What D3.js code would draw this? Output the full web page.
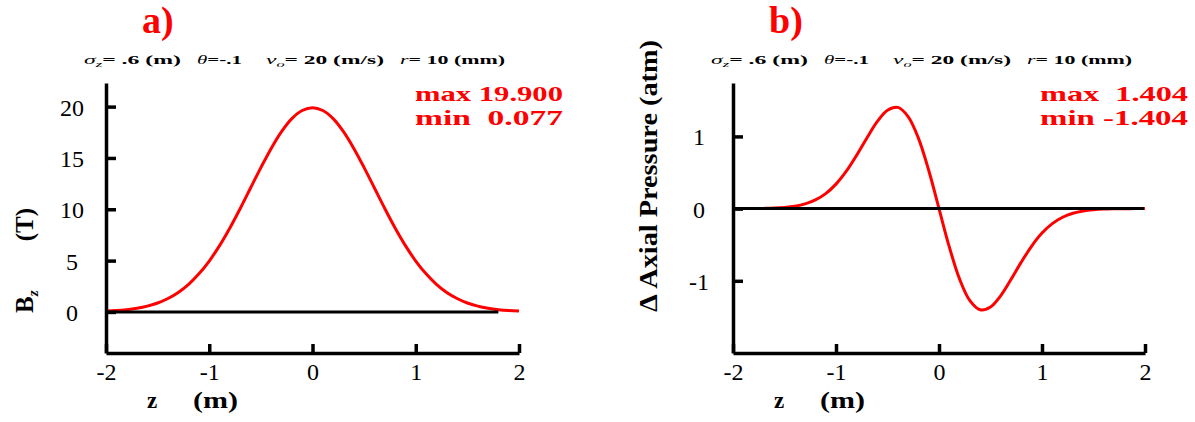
<!DOCTYPE html>
<html>
<head>
<meta charset="utf-8">
<script src="https://cdn.jsdelivr.net/npm/d3@7"></script>
<style>
  body { margin: 0; background: #fff; }
  text { font-family: "Liberation Serif", "Times New Roman", serif; white-space: pre; }
</style>
</head>
<body>
<script>
const [width, height] = [1195, 422]

// z positions (m)
const zValues = [
  -2.0, -1.9, -1.8, -1.7, -1.6, -1.5, -1.4, -1.3, -1.2, -1.1,
  -1.0, -0.9, -0.8, -0.7, -0.6, -0.5, -0.4, -0.3, -0.2, -0.1,
  0.0, 0.1, 0.2, 0.3, 0.4, 0.5, 0.6, 0.7, 0.8, 0.9,
  1.0, 1.1, 1.2, 1.3, 1.4, 1.5, 1.6, 1.7, 1.8, 1.9, 2.0
];
// panel a: Bz (T)
const bzValues = [
  0.08, 0.13, 0.22, 0.36, 0.57, 0.87, 1.31, 1.90, 2.69, 3.71,
  4.96, 6.46, 8.18, 10.08, 12.07, 14.06, 15.93, 17.56, 18.83, 19.62,
  19.90, 19.62, 18.83, 17.56, 15.93, 14.06, 12.07, 10.08, 8.18, 6.46,
  4.96, 3.71, 2.69, 1.90, 1.31, 0.87, 0.57, 0.36, 0.22, 0.13, 0.08
];
// panel b: delta axial pressure (atm)
const pressureValues = [
  0.000, 0.000, 0.001, 0.003, 0.007, 0.016, 0.033, 0.065, 0.120, 0.208,
  0.339, 0.518, 0.738, 0.979, 1.204, 1.362, 1.402, 1.275, 0.976, 0.531,
  0.000, -0.531, -0.976, -1.275, -1.402, -1.362, -1.204, -0.979, -0.738, -0.518,
  -0.339, -0.208, -0.120, -0.065, -0.033, -0.016, -0.007, -0.003, -0.001, 0.000, 0.000
];

const xTicks = [-2, -1, 0, 1, 2];
const bzTicks = [0, 5, 10, 15, 20];
const pressureTicks = [-1, 0, 1];

const panels = [
  {
    left: 106, right: 519, tag: "a)", yDomain: [-4, 22.3], ticks: bzTicks, values: bzValues,
    zeroEnd: 1.8, stats: ["max 19.900", "min  0.077"], statsX: 415
  },
  {
    left: 733, right: 1145, tag: "b)", yDomain: [-2, 1.74], ticks: pressureTicks, values: pressureValues,
    zeroEnd: 1.99, stats: ["max  1.404", "min -1.404"], statsX: 1040
  }
];
const [plotTop, plotBottom] = [83, 353];

const svg = d3.select('body')
  .append('svg')
  .attr("width", width)
  .attr("height", height);

// parameter line pieces: offset from axis, width
const paramPieces = [
  { dx: -22, w: 97, parts: [["σ", "i"], ["z", "s"], ["= .6 (m)", "b"]] },
  { dx: 91, w: 45, parts: [["θ", "i"], ["=-.1", "b"]] },
  { dx: 160, w: 118, parts: [["v", "i"], ["o", "s"], ["= 20 (m/s)", "b"]] },
  { dx: 294, w: 105, parts: [["r", "i"], ["= 10 (mm)", "b"]] }
];

panels.forEach((p, i) => {
  const x = d3.scaleLinear().domain([-2, 2]).range([p.left, p.right]);
  const y = d3.scaleLinear().domain(p.yDomain).range([plotBottom, plotTop]);
  const g = svg.append("g");

  // red curve
  const line = d3.line()
    .x((d, k) => x(zValues[k]))
    .y(d => y(d))
    .curve(d3.curveCatmullRom);
  g.append("path")
    .datum(p.values)
    .attr("d", line)
    .attr("fill", "none")
    .attr("stroke", "#ff0000")
    .attr("stroke-width", 3);

  // zero line on top
  g.append("line")
    .attr("x1", x(-2)).attr("x2", x(p.zeroEnd))
    .attr("y1", y(0)).attr("y2", y(0))
    .attr("stroke", "#000")
    .attr("stroke-width", 3);

  // axes, ticks pointing inward
  const xAxis = g.append("g")
    .attr("transform", `translate(0,${plotBottom})`)
    .call(d3.axisBottom(x).tickValues(xTicks).tickFormat(d => String(d))
      .tickSizeInner(-9).tickSizeOuter(0).tickPadding(10));
  const yAxis = g.append("g")
    .attr("transform", `translate(${p.left},0)`)
    .call(d3.axisLeft(y).tickValues(p.ticks).tickFormat(d => String(d))
      .tickSizeInner(-10).tickSizeOuter(0).tickPadding(34));
  [xAxis, yAxis].forEach(a => {
    a.select(".domain").attr("stroke-width", 3.5);
    a.selectAll(".tick line").attr("stroke-width", 3.5);
    a.selectAll(".tick text")
      .attr("font-family", "Liberation Serif")
      .attr("font-size", 24)
      .attr("fill", "#000")
      .attr("text-anchor", "middle");
  });
  yAxis.selectAll(".tick text").attr("dy", "0.35em");

  // panel tag
  g.append("text")
    .attr("x", p.left + 36).attr("y", 33)
    .attr("font-size", 38)
    .attr("font-weight", "bold")
    .attr("fill", "#ff0000")
    .text(p.tag);

  // parameter line
  paramPieces.forEach(pc => {
    const t = g.append("text")
      .attr("x", p.left + pc.dx).attr("y", 64)
      .attr("font-size", 13)
      .attr("textLength", pc.w)
      .attr("lengthAdjust", "spacingAndGlyphs");
    pc.parts.forEach(([s, kind]) => {
      const ts = t.append("tspan").text(s);
      if (kind === "i") ts.attr("font-style", "italic");
      if (kind === "s") ts.attr("font-style", "italic").attr("font-size", 9).attr("dy", 3);
      if (kind === "b") ts.attr("font-weight", "bold").attr("dy", pc.parts.some(q => q[1] === "s") ? -3 : 0);
    });
  });

  // max / min
  const st = g.append("text")
    .attr("font-size", 21)
    .attr("font-weight", "bold")
    .attr("fill", "#ff0000");
  p.stats.forEach((s, k) => {
    st.append("tspan")
      .attr("x", p.statsX).attr("y", 101 + k * 24)
      .attr("textLength", 148)
      .attr("lengthAdjust", "spacingAndGlyphs")
      .text(s);
  });

  // x label
  g.append("text")
    .attr("x", p.left + 41).attr("y", 408)
    .attr("font-size", 23)
    .attr("font-weight", "bold")
    .text("z");
  g.append("text")
    .attr("x", p.left + 87).attr("y", 408)
    .attr("font-size", 23)
    .attr("font-weight", "bold")
    .attr("textLength", 45)
    .attr("lengthAdjust", "spacingAndGlyphs")
    .text("(m)");
});

// y labels
const yl1 = svg.append("text")
  .attr("transform", "translate(33,313) rotate(-90)")
  .attr("font-size", 25)
  .attr("font-weight", "bold");
yl1.append("tspan").text("B");
yl1.append("tspan").attr("font-style", "italic").attr("font-size", 15).attr("dy", 5).text("z");
svg.append("text")
  .attr("transform", "translate(33,208) rotate(-90)")
  .attr("text-anchor", "end")
  .attr("font-size", 25)
  .attr("font-weight", "bold")
  .text("(T)");

svg.append("text")
  .attr("transform", "translate(657,176) rotate(-90)")
  .attr("text-anchor", "middle")
  .attr("font-size", 26)
  .attr("font-weight", "bold")
  .attr("textLength", 272)
  .attr("lengthAdjust", "spacingAndGlyphs")
  .text("Δ Axial Pressure (atm)");
</script>
</body>
</html>
